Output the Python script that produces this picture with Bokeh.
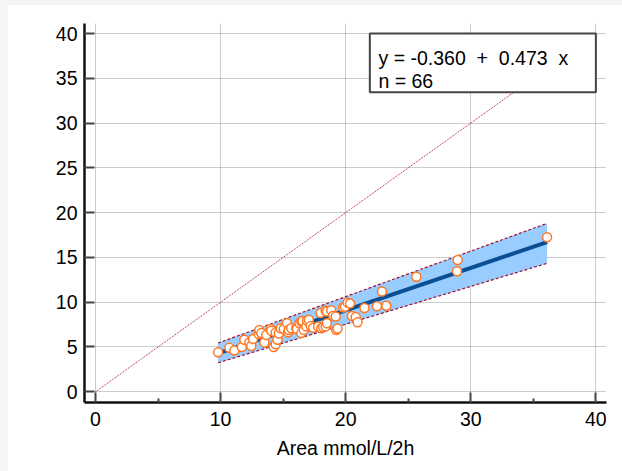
from bokeh.plotting import figure
from bokeh.models import FixedTicker, BoxAnnotation, Label, Spacer, Range1d, ColumnDataSource
from bokeh.layouts import column, row
from bokeh.embed import file_html
from bokeh.resources import INLINE

# ---------------- data ----------------
area_x = [9.8, 10.7, 11.1, 11.7, 11.9, 12.3, 12.45, 12.6, 13.05, 13.1, 13.25, 13.5, 13.65,
          14.0, 14.05, 14.25, 14.4, 14.4, 14.55, 14.65, 14.8, 15.05, 15.3, 15.4, 15.45, 15.65,
          16.05, 16.1, 16.3, 16.45, 16.45, 16.55, 16.65, 16.85, 16.9, 17.05, 17.2, 17.4, 17.8,
          18.0, 18.05, 18.2, 18.4, 18.4, 18.5, 18.5, 18.85, 19.0, 19.2, 19.25, 19.35, 19.8,
          19.95, 20.15, 20.35, 20.5, 20.8, 20.95, 21.5, 22.5, 22.9, 23.25, 25.65, 28.9, 28.95, 36.1]
resp_y = [4.4, 4.9, 4.6, 5.0, 5.8, 5.5, 5.1, 5.9, 6.45, 6.9, 6.55, 5.5, 6.35,
          7.0, 6.8, 5.0, 5.3, 6.6, 5.8, 6.5, 7.1, 7.0, 7.65, 6.65, 6.9, 7.1,
          7.1, 7.0, 7.65, 7.85, 6.55, 7.9, 6.9, 7.3, 7.95, 8.05, 7.35, 7.15, 7.3,
          8.8, 7.1, 7.2, 9.05, 7.3, 8.95, 7.65, 9.1, 8.5, 8.4, 6.9, 7.05, 9.4,
          9.5, 9.95, 9.85, 8.45, 8.35, 7.75, 9.35, 9.55, 11.2, 9.6, 12.85, 13.45, 14.7, 17.25]

intercept = -0.360
slope = 0.473
n_points = 66

band_x = [9.8, 36.1]
band_upper = [5.44, 18.8]
band_lower = [3.24, 14.34]

identity_x = [0, 40]
identity_y = [0, 40]

x_ticks = [0, 10, 20, 30, 40]
x_minor = [5, 15, 25, 35]
y_ticks = [0, 5, 10, 15, 20, 25, 30, 35, 40]

x_label = "Area mmol/L/2h"

FONT = "Liberation Sans"
FS = "19.5px"

# ---------------- figure ----------------
p = figure(width=614, height=466, output_backend="svg", toolbar_location=None,
           x_range=Range1d(-0.88, 40.85), y_range=Range1d(-1.2, 41.12),
           min_border_left=76, min_border_right=16, min_border_top=18, min_border_bottom=69)
p.outline_line_color = None
p.background_fill_color = "white"
p.border_fill_color = "white"

# grids
for g in (p.xgrid, p.ygrid):
    g.grid_line_color = "#999999"
    g.grid_line_dash = "1 1"
    g.grid_line_width = 1
p.xgrid.ticker = FixedTicker(ticks=x_ticks)
p.ygrid.ticker = FixedTicker(ticks=y_ticks)

# axes
p.xaxis.ticker = FixedTicker(ticks=x_ticks, minor_ticks=x_minor)
p.yaxis.ticker = FixedTicker(ticks=y_ticks)
for ax in (p.xaxis[0], p.yaxis[0]):
    ax.axis_line_color = "#111111"
    ax.axis_line_width = 2.5
    ax.major_tick_in = 10
    ax.major_tick_out = 0
    ax.major_tick_line_color = "#444444"
    ax.major_tick_line_width = 2
    ax.major_label_text_font = FONT
    ax.major_label_text_font_size = FS
    ax.major_label_text_color = "black"
p.xaxis.minor_tick_in = 4
p.xaxis.minor_tick_out = 0
p.xaxis.minor_tick_line_color = "#444444"
p.xaxis.minor_tick_line_width = 2
p.yaxis.minor_tick_line_color = None
p.xaxis.major_label_standoff = 9
p.yaxis.major_label_standoff = 7
p.xaxis.axis_label = x_label
p.xaxis.axis_label_text_font = FONT
p.xaxis.axis_label_text_font_size = FS
p.xaxis.axis_label_text_font_style = "normal"
p.xaxis.axis_label_text_color = "black"
p.xaxis.axis_label_standoff = 8

# identity line
p.line(identity_x, identity_y, line_color="#b0182e", line_width=1, line_dash="1 1")

# prediction band
p.varea(x=band_x, y1=band_lower, y2=band_upper, fill_color="#99ccff", fill_alpha=1.0)
p.line(band_x, band_upper, line_color="#a0102c", line_width=1.2, line_dash="3 2")
p.line(band_x, band_lower, line_color="#a0102c", line_width=1.2, line_dash="3 2")

# regression line
xmin, xmax = min(area_x), max(area_x)
reg_x = [xmin, xmax]
reg_y = [intercept + slope * v for v in reg_x]
p.line(reg_x, reg_y, line_color="#0a4f94", line_width=4)

# points
src = ColumnDataSource(dict(x=area_x, y=resp_y))
p.scatter("x", "y", source=src, size=9, fill_color="white", line_color="#ff7722", line_width=1.5)

# equation box
box = BoxAnnotation(left=21.93, right=40.0, bottom=33.44, top=40.0,
                    fill_color="white", fill_alpha=1.0, line_color="#444444", line_alpha=1.0,
                    line_width=2, level="annotation")
p.add_layout(box)
eq_text = "y = -0.360\u00a0 +\u00a0 0.473\u00a0 x"
p.add_layout(Label(x=22.62, y=37.3, text=eq_text, text_font=FONT, text_font_size=FS,
                   text_color="black", text_baseline="alphabetic", text_align="left"))
p.add_layout(Label(x=22.62, y=34.75, text="n = %d" % n_points, text_font=FONT, text_font_size=FS,
                   text_color="black", text_baseline="alphabetic", text_align="left"))

bg = {"background-color": "#f5f5f5"}
layout = column(Spacer(width=622, height=5, styles=bg),
                row(Spacer(width=8, height=466, styles=bg), p))

open("out.html", "w").write(file_html(layout, INLINE))
